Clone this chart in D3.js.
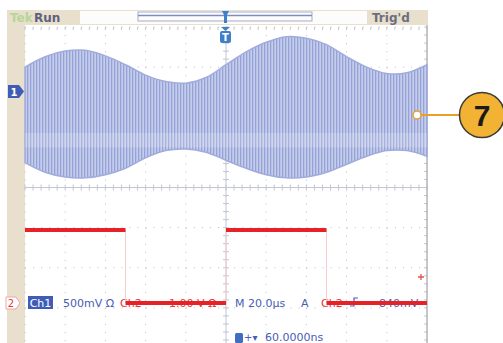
<!DOCTYPE html>
<html>
<head>
<meta charset="utf-8">
<script src="https://cdn.jsdelivr.net/npm/d3@7"></script>
<style>
  html, body { margin: 0; padding: 0; background: #fff; }
  svg { display: block; font-family: 'DejaVu Sans', sans-serif; }
</style>
</head>
<body>
<div id="scope"></div>
<script>
// Ch1: AM signal envelope, volts (500 mV/div), sampled every 10 us
const ch1Time = [0, 10, 20, 30, 40, 50, 60, 70, 80, 90, 100, 110, 120, 130, 140, 150, 160, 170, 180, 190, 200]
const ch1Top = [1.50, 1.63, 1.70, 1.71, 1.64, 1.53, 1.40, 1.32, 1.30, 1.37, 1.53, 1.69, 1.81, 1.88, 1.86, 1.78, 1.63, 1.50, 1.42, 1.43, 1.53]
const ch1Bottom = [0.31, 0.19, 0.13, 0.12, 0.16, 0.24, 0.37, 0.46, 0.48, 0.44, 0.34, 0.24, 0.16, 0.12, 0.13, 0.19, 0.29, 0.39, 0.46, 0.46, 0.39]

// Ch2: square wave, volts (1 V/div)
const ch2Time = [0, 50, 50, 100, 100, 150, 150, 200]
const ch2Volts = [-1.06, -1.06, -2.88, -2.88, -1.06, -1.06, -2.88, -2.88]

// readout texts
const topLeft = ['Tek', 'Run']
const topRight = "Trig'd"
const readout = [
  { text: '500mV Ω', x: 63, color: 'blue' },
  { text: 'Ch2', x: 120, color: 'red' },
  { text: '1.00 V Ω', x: 169, color: 'red' },
  { text: 'M 20.0µs', x: 235, color: 'blue' },
  { text: 'A', x: 301, color: 'blue' },
  { text: 'Ch2', x: 321, color: 'red' },
  { text: '840mV', x: 379, color: 'blue' }
]
const delayText = '60.0000ns'
const callout = '7'

const W = 503
const H = 343
const blue = '#4660b4'
const red = '#e0383a'
const beige = '#e8dfcd'
const gridColor = '#c3c7d4'

const svg = d3.select('#scope')
  .append('svg')
  .attr('width', W)
  .attr('height', H)

const x = d3.scaleLinear().domain([0, 200]).range([25, 427])
const yDiv = d3.scaleLinear().domain([-4, 4]).range([348, 27])
const y1 = d3.scaleLinear().domain([-2, 2]).range([348, 27])
const y2 = d3.scaleLinear().domain([-4, 4]).range([348, 27])

const defs = svg.append('defs')
const pat = defs.append('pattern')
  .attr('id', 'carrier')
  .attr('patternUnits', 'userSpaceOnUse')
  .attr('width', 3)
  .attr('height', 10)
pat.append('rect').attr('width', 3).attr('height', 10).attr('fill', '#c6cdeb')
pat.append('rect').attr('width', 1.3).attr('height', 10).attr('fill', '#94a2d8')

// left strip
svg.append('rect')
  .attr('x', 7).attr('y', 10).attr('width', 18).attr('height', H - 10)
  .attr('fill', beige)

// graticule
const grid = svg.append('g')
const minor = d3.range(0, 200.01, 4)
const minorV = d3.range(-4, 4.01, 0.2)

d3.range(0, 201, 20).forEach(function (t) {
  grid.append('line')
    .attr('x1', x(t)).attr('x2', x(t))
    .attr('y1', yDiv(4)).attr('y2', yDiv(-4))
    .attr('stroke', gridColor)
    .attr('stroke-width', 1)
    .attr('stroke-dasharray', '1.2 ' + ((yDiv(-4) - yDiv(4)) / 40 - 1.2))
})
d3.range(-4, 5, 1).forEach(function (d) {
  grid.append('line')
    .attr('x1', x(0)).attr('x2', x(200))
    .attr('y1', yDiv(d)).attr('y2', yDiv(d))
    .attr('stroke', gridColor)
    .attr('stroke-width', 1)
    .attr('stroke-dasharray', '1.2 ' + ((x(200) - x(0)) / 50 - 1.2))
})

// center axes with minor ticks
grid.append('line')
  .attr('x1', x(0)).attr('x2', x(200))
  .attr('y1', yDiv(0)).attr('y2', yDiv(0))
  .attr('stroke', gridColor)
grid.append('line')
  .attr('x1', x(100)).attr('x2', x(100))
  .attr('y1', yDiv(4)).attr('y2', yDiv(-4))
  .attr('stroke', gridColor)
grid.selectAll('.htick')
  .data(minor)
  .enter().append('line')
  .attr('x1', d => x(d)).attr('x2', d => x(d))
  .attr('y1', yDiv(0) - 3).attr('y2', yDiv(0) + 3)
  .attr('stroke', gridColor)
grid.selectAll('.ttick')
  .data(minor)
  .enter().append('line')
  .attr('x1', d => x(d)).attr('x2', d => x(d))
  .attr('y1', yDiv(4)).attr('y2', yDiv(4) + 3)
  .attr('stroke', gridColor)
grid.selectAll('.vtick')
  .data(minorV)
  .enter().append('line')
  .attr('x1', x(100) - 3).attr('x2', x(100) + 3)
  .attr('y1', d => yDiv(d)).attr('y2', d => yDiv(d))
  .attr('stroke', gridColor)
grid.selectAll('.rtick')
  .data(minorV)
  .enter().append('line')
  .attr('x1', x(200) - 3).attr('x2', x(200))
  .attr('y1', d => yDiv(d)).attr('y2', d => yDiv(d))
  .attr('stroke', gridColor)
grid.append('line')
  .attr('x1', x(200)).attr('x2', x(200))
  .attr('y1', 10).attr('y2', H)
  .attr('stroke', '#b4b4b8')
  .attr('stroke-width', 1.5)

// Ch1 envelope
const ch1 = ch1Time.map((t, i) => ({ t: t, top: ch1Top[i], bottom: ch1Bottom[i] }))
const envelope = d3.area()
  .curve(d3.curveCatmullRom)
  .x(d => x(d.t))
  .y0(d => y1(d.bottom))
  .y1(d => y1(d.top))
defs.append('clipPath').attr('id', 'envClip')
  .append('path').datum(ch1).attr('d', envelope)
svg.append('path')
  .datum(ch1)
  .attr('fill', 'url(#carrier)')
  .attr('stroke', '#a0acdc')
  .attr('stroke-width', 1.5)
  .attr('d', envelope)
// lighter band through the middle of the carrier
svg.append('rect')
  .attr('clip-path', 'url(#envClip)')
  .attr('x', x(0)).attr('width', x(200) - x(0))
  .attr('y', y1(0.68)).attr('height', y1(0.5) - y1(0.68))
  .attr('fill', '#fff')
  .attr('opacity', 0.18)

// readout text, drawn before Ch2 so the trace covers it
const ro = svg.append('g').attr('font-size', 11)
ro.selectAll('text.ro')
  .data(readout)
  .enter().append('text')
  .attr('x', d => d.x)
  .attr('y', 307)
  .attr('fill', d => d.color === 'red' ? red : blue)
  .text(d => d.text)

ro.append('rect')
  .attr('x', 28).attr('y', 296).attr('width', 25).attr('height', 13)
  .attr('fill', '#3f5db6')
ro.append('text')
  .attr('x', 40.5).attr('y', 307)
  .attr('text-anchor', 'middle')
  .attr('fill', '#fff')
  .text('Ch1')

// slope symbol
ro.append('path')
  .attr('d', 'M350,306 L354,306 L354,298 L358,298')
  .attr('fill', 'none')
  .attr('stroke', blue)
  .attr('stroke-width', 1.2)

// ch2 marker
ro.append('path')
  .attr('d', 'M6,297 L16,297 L20,303 L16,309 L6,309 Z')
  .attr('fill', '#fff')
  .attr('stroke', '#f0a4a4')
ro.append('text')
  .attr('x', 11).attr('y', 307)
  .attr('text-anchor', 'middle')
  .attr('font-size', 10)
  .attr('fill', red)
  .text('2')

// delay readout
ro.append('rect')
  .attr('x', 235).attr('y', 333).attr('width', 8).attr('height', 10)
  .attr('rx', 1.5)
  .attr('fill', '#3f6fc0')
ro.append('text')
  .attr('x', 244).attr('y', 341)
  .attr('fill', blue)
  .attr('font-size', 10)
  .text('+▾')
ro.append('text')
  .attr('x', 265).attr('y', 341)
  .attr('fill', blue)
  .text(delayText)

// Ch2 trace
const ch2 = ch2Time.map((t, i) => ({ t: t, v: ch2Volts[i] }))
svg.append('path')
  .datum(ch2)
  .attr('fill', 'none')
  .attr('stroke', '#f7cccc')
  .attr('stroke-width', 1)
  .attr('d', d3.line().x(d => x(d.t)).y(d => y2(d.v)))

const segs = d3.range(0, ch2.length, 2).map(i => [ch2[i], ch2[i + 1]])
svg.selectAll('.seg')
  .data(segs)
  .enter().append('line')
  .attr('x1', d => x(d[0].t)).attr('x2', d => x(d[1].t))
  .attr('y1', d => y2(d[0].v)).attr('y2', d => y2(d[1].v))
  .attr('stroke', '#e62226')
  .attr('stroke-width', 4)

// ch2 trigger level marker
svg.append('path')
  .attr('d', 'M418,277 L424,277 M421,274 L421,280')
  .attr('stroke', '#e85050')
  .attr('stroke-width', 1.3)

// ch1 marker
svg.append('path')
  .attr('d', 'M8,85 L19,85 L24,91.5 L19,98 L8,98 Z')
  .attr('fill', '#3f5db6')
svg.append('text')
  .attr('x', 14).attr('y', 95.5)
  .attr('text-anchor', 'middle')
  .attr('font-size', 10)
  .attr('font-weight', 'bold')
  .attr('fill', '#fff')
  .text('1')

// top status bar
svg.append('rect')
  .attr('x', 7).attr('y', 10).attr('width', 421).attr('height', 15)
  .attr('fill', beige)
svg.append('rect')
  .attr('x', 80).attr('y', 11).attr('width', 287).attr('height', 13)
  .attr('fill', '#fcfcfd')
svg.append('text')
  .attr('x', 10).attr('y', 22)
  .attr('font-size', 12)
  .attr('font-weight', 'bold')
  .attr('fill', '#b6d69a')
  .text(topLeft[0])
svg.append('text')
  .attr('x', 34).attr('y', 22)
  .attr('font-size', 12)
  .attr('font-weight', 'bold')
  .attr('fill', '#5d6180')
  .text(topLeft[1])
svg.append('text')
  .attr('x', 372).attr('y', 22)
  .attr('font-size', 12)
  .attr('font-weight', 'bold')
  .attr('fill', '#6c6e80')
  .text(topRight)

// record view bar
svg.append('rect')
  .attr('x', 138).attr('y', 12).attr('width', 174).attr('height', 9)
  .attr('fill', 'none')
  .attr('stroke', '#a6abc6')
svg.append('line')
  .attr('x1', 138).attr('x2', 312)
  .attr('y1', 15.5).attr('y2', 15.5)
  .attr('stroke', '#7f8cc4')
  .attr('stroke-width', 1.5)

// trigger position markers
svg.append('path')
  .attr('d', 'M222,11 L229,11 L227,15 L227,23 L224,23 L224,15 Z')
  .attr('fill', '#3f7fc8')
svg.append('path')
  .attr('d', 'M221,27 L230,27 L225.5,31 Z')
  .attr('fill', '#3f7fc8')
svg.append('rect')
  .attr('x', 220).attr('y', 31).attr('width', 11).attr('height', 12)
  .attr('rx', 2)
  .attr('fill', '#3f7fc8')
svg.append('text')
  .attr('x', 225.5).attr('y', 41)
  .attr('text-anchor', 'middle')
  .attr('font-size', 10)
  .attr('font-weight', 'bold')
  .attr('fill', '#fff')
  .text('T')

// callout
svg.append('line')
  .attr('x1', 417).attr('x2', 460)
  .attr('y1', 115).attr('y2', 115)
  .attr('stroke', '#e8a028')
  .attr('stroke-width', 2)
svg.append('circle')
  .attr('cx', 417).attr('cy', 115).attr('r', 4)
  .attr('fill', '#fff')
  .attr('stroke', '#e8a028')
  .attr('stroke-width', 1.5)
svg.append('circle')
  .attr('cx', 482).attr('cy', 115).attr('r', 22.5)
  .attr('fill', '#f2b233')
  .attr('stroke', '#3a3a3a')
  .attr('stroke-width', 1.5)
svg.append('text')
  .attr('x', 482).attr('y', 126)
  .attr('text-anchor', 'middle')
  .attr('font-family', "'Liberation Sans', Arial, sans-serif")
  .attr('font-size', 30)
  .attr('font-weight', 'bold')
  .attr('fill', '#1a1a1a')
  .text(callout)
</script>
</body>
</html>
